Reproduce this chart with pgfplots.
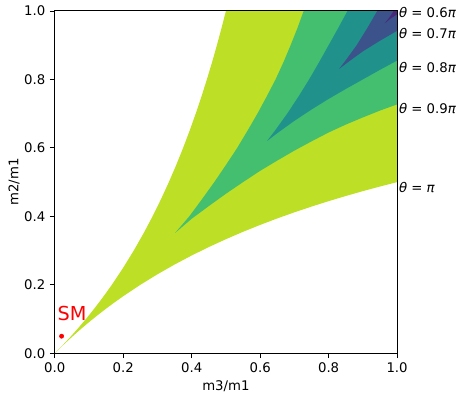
\documentclass[border=0pt]{standalone}
\usepackage{fontspec}
\setmainfont{DejaVu Sans}
\usepackage{pgfplots}
\pgfplotsset{compat=1.18}
\definecolor{c1}{HTML}{BDDF26}
\definecolor{c2}{HTML}{44BF70}
\definecolor{c3}{HTML}{21918C}
\definecolor{c4}{HTML}{3B528B}
\definecolor{c5}{HTML}{482878}
\begin{document}
\begin{tikzpicture}
\fontsize{10}{12}\selectfont
\begin{axis}[
  scale only axis, width=258pt, height=258pt,
  xmin=0, xmax=1, ymin=0, ymax=1,
  xtick={0,0.2,0.4,0.6,0.8,1}, ytick={0,0.2,0.4,0.6,0.8,1},
  xticklabel style={/pgf/number format/fixed, /pgf/number format/fixed zerofill, /pgf/number format/precision=1},
  yticklabel style={/pgf/number format/fixed, /pgf/number format/fixed zerofill, /pgf/number format/precision=1},
  /pgf/number format/assume math mode=true,
  tick align=outside, tick pos=left, major tick length=3.6pt,
  every tick/.style={black, line width=0.6pt},
  axis line style={line width=0.8pt},
  xlabel={m3/m1}, ylabel={m2/m1},
  xlabel style={at={(axis description cs:0.5,-0.096)}, anchor=center},
  ylabel style={at={(axis description cs:-0.119,0.5)}, anchor=center},
  axis on top, clip=false,
]
% theta <= pi (whole allowed region)
\addplot[fill=c1, draw=none] coordinates {
(0,0) (0.025,0.02439) (0.05,0.04762) (0.075,0.06977) (0.1,0.09091) (0.125,0.11111) (0.15,0.13043) (0.175,0.14894) (0.2,0.16667) (0.25,0.2) (0.3,0.23077) (0.35,0.25926) (0.4,0.28571) (0.45,0.31034) (0.5,0.33333) (0.55,0.35484) (0.6,0.375) (0.65,0.39394) (0.7,0.41176) (0.75,0.42857) (0.8,0.44444) (0.85,0.45946) (0.9,0.47368) (0.95,0.48718) (1,0.5)
(1,1)
(0.5,1) (0.48718,0.95) (0.47368,0.9) (0.45946,0.85) (0.44444,0.8) (0.42857,0.75) (0.41176,0.7) (0.39394,0.65) (0.375,0.6) (0.35484,0.55) (0.33333,0.5) (0.31034,0.45) (0.28571,0.4) (0.25926,0.35) (0.23077,0.3) (0.2,0.25) (0.16667,0.2) (0.14894,0.175) (0.13043,0.15) (0.11111,0.125) (0.09091,0.1) (0.06977,0.075) (0.04762,0.05) (0.02439,0.025)
} --cycle;
% theta <= 0.9 pi
\addplot[fill=c2, draw=none] coordinates {
(0.352,0.352) (0.40,0.393) (0.45,0.430) (0.50,0.466) (0.55,0.500) (0.60,0.533) (0.65,0.563) (0.70,0.592) (0.75,0.619) (0.80,0.645) (0.85,0.668) (0.90,0.689) (0.95,0.709) (1,0.727)
(1,1)
(0.727,1) (0.709,0.95) (0.689,0.90) (0.668,0.85) (0.645,0.80) (0.619,0.75) (0.592,0.70) (0.563,0.65) (0.533,0.60) (0.500,0.55) (0.466,0.50) (0.430,0.45) (0.393,0.40)
} --cycle;
% theta <= 0.8 pi
\addplot[fill=c3, draw=none] coordinates {
(0.62,0.62) (0.65,0.643) (0.70,0.679) (0.75,0.712) (0.80,0.743) (0.85,0.772) (0.90,0.800) (0.95,0.828) (1,0.855)
(1,1)
(0.855,1) (0.828,0.95) (0.800,0.90) (0.772,0.85) (0.743,0.80) (0.712,0.75) (0.679,0.70) (0.643,0.65)
} --cycle;
% theta <= 0.7 pi
\addplot[fill=c4, draw=none] coordinates {
(0.831,0.831) (0.86,0.853) (0.90,0.882) (0.95,0.913) (1,0.942)
(1,1)
(0.942,1) (0.913,0.95) (0.882,0.90) (0.853,0.86)
} --cycle;
% theta <= 0.6 pi
\addplot[fill=c5, draw=none] coordinates {
(0.964,0.964) (0.98,0.977) (1,0.990) (1,1) (0.990,1) (0.977,0.98)
} --cycle;
% SM point
\addplot[only marks, mark=*, mark size=1.6pt, color=red] coordinates {(0.02,0.05)};
\node[anchor=base west, text=red, inner sep=0pt, font=\fontsize{14.5}{17}\selectfont] at (axis cs:0.008,0.097) {SM};
\node[anchor=base west, inner sep=0pt] at (axis cs:1.005,0.98) {\textit{θ} = 0.6\textit{π}};
\node[anchor=base west, inner sep=0pt] at (axis cs:1.005,0.92) {\textit{θ} = 0.7\textit{π}};
\node[anchor=base west, inner sep=0pt] at (axis cs:1.005,0.82) {\textit{θ} = 0.8\textit{π}};
\node[anchor=base west, inner sep=0pt] at (axis cs:1.005,0.70) {\textit{θ} = 0.9\textit{π}};
\node[anchor=base west, inner sep=0pt] at (axis cs:1.005,0.47) {\textit{θ} = \textit{π}};
\end{axis}
\path (-41.25pt,-31.5pt) rectangle (300.75pt,266.25pt);
\end{tikzpicture}
\end{document}
